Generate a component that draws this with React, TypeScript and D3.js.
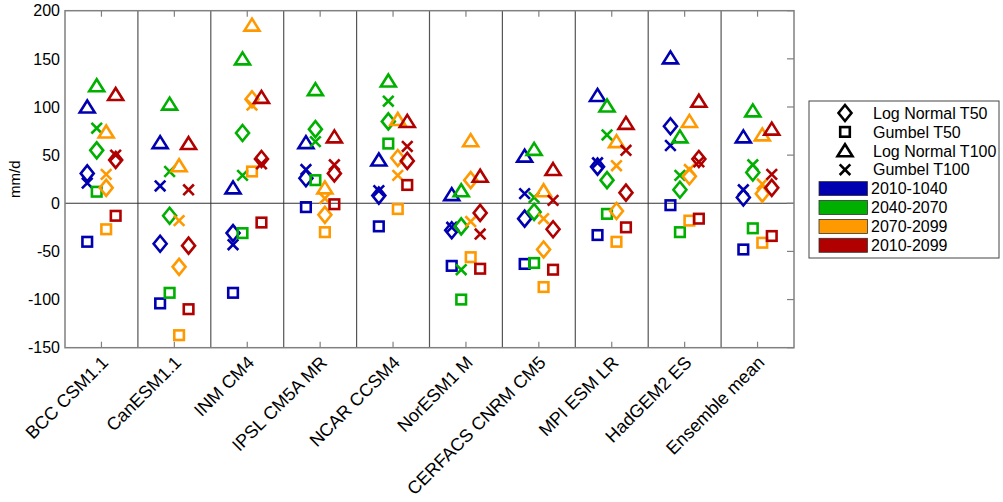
import React from "react";
import * as d3 from "d3";

// Climate models (x categories)
const models = [
  "BCC CSM1.1",
  "CanESM1.1",
  "INM CM4",
  "IPSL CM5A MR",
  "NCAR CCSM4",
  "NorESM1 M",
  "CERFACS CNRM CM5",
  "MPI ESM LR",
  "HadGEM2 ES",
  "Ensemble mean",
];

// Periods (colour series)
const periods = ["2010-1040", "2040-2070", "2070-2099", "2010-2099"];
const periodColors = ["#0000b0", "#00b000", "#ff9900", "#b00000"];

// Values in mm/d, one row per model, one column per period
const logNormalT50 = [
  [31, 55, 16, 45],
  [-42, -13, -66, -44],
  [-31, 73, 108, 46],
  [26, 77, -12, 31],
  [8, 85, 47, 44],
  [-28, -24, 24, -10],
  [-16, -9, -48, -27],
  [38, 24, -8, 11],
  [80, 14, 28, 46],
  [6, 32, 10, 16],
];
const gumbelT50 = [
  [-40, 12, -27, -13],
  [-104, -93, -137, -110],
  [-93, -31, 33, -20],
  [-4, 24, -30, -1],
  [-24, 62, -6, 19],
  [-65, -100, -56, -68],
  [-63, -62, -87, -69],
  [-33, -11, -40, -25],
  [-2, -30, -18, -16],
  [-48, -26, -41, -34],
];
const logNormalT100 = [
  [100, 122, 74, 113],
  [63, 103, 39, 62],
  [16, 150, 185, 110],
  [63, 118, 16, 69],
  [45, 127, 87, 85],
  [9, 13, 65, 28],
  [49, 56, 13, 35],
  [112, 101, 64, 83],
  [151, 69, 85, 106],
  [69, 96, 71, 77],
];
const gumbelT100 = [
  [21, 78, 30, 50],
  [18, 33, -18, 14],
  [-43, 29, 102, 41],
  [35, 64, 5, 40],
  [13, 106, 29, 59],
  [-25, -69, -19, -32],
  [10, 6, -16, 3],
  [42, 71, 39, 55],
  [60, 29, 35, 43],
  [14, 40, 20, 30],
];

const yTicks = [-150, -100, -50, 0, 50, 100, 150, 200];
const legendShapes = ["Log Normal T50", "Gumbel T50", "Log Normal T100", "Gumbel T100"];
const periodOffsets = [-0.195, -0.065, 0.065, 0.195];

const W = 1003;
const H = 502;
const left = 65;
const right = 794;
const top = 10.7;
const bottom = 347.7;
const font = "'Liberation Sans', Arial, Helvetica, sans-serif";

type Shape = "diamond" | "square" | "triangle" | "cross";

function Marker({ shape, x, y, color }: { shape: Shape; x: number; y: number; color: string }) {
  const sw = 2.6;
  if (shape === "diamond") {
    const p = `M${x},${y - 8}L${x + 6.5},${y}L${x},${y + 8}L${x - 6.5},${y}Z`;
    return <path d={p} fill="none" stroke={color} strokeWidth={sw} />;
  }
  if (shape === "square") {
    return <rect x={x - 4.8} y={y - 4.8} width={9.6} height={9.6} fill="none" stroke={color} strokeWidth={sw} />;
  }
  if (shape === "triangle") {
    const p = `M${x},${y - 6.5}L${x + 7.5},${y + 5.5}L${x - 7.5},${y + 5.5}Z`;
    return <path d={p} fill="none" stroke={color} strokeWidth={sw} />;
  }
  const s = 5.3;
  return (
    <path
      d={`M${x - s},${y - s}L${x + s},${y + s}M${x - s},${y + s}L${x + s},${y - s}`}
      fill="none"
      stroke={color}
      strokeWidth={sw}
    />
  );
}

export default function App() {
  const x = d3.scaleBand<string>().domain(models).range([left, right]).padding(0);
  const y = d3.scaleLinear().domain([-150, 200]).range([bottom, top]);
  const bw = x.bandwidth();

  const series: { shape: Shape; data: number[][] }[] = [
    { shape: "diamond", data: logNormalT50 },
    { shape: "square", data: gumbelT50 },
    { shape: "triangle", data: logNormalT100 },
    { shape: "cross", data: gumbelT100 },
  ];

  const legendX = 809;
  const legendY = 101;
  const rowY = (i: number) => legendY + 12 + i * 18.9;

  return (
    <svg
      width={W}
      height={H}
      style={{ position: "absolute", left: 0, top: 0, background: "#fff" }}
      fontFamily={font}
    >
      <rect x={0} y={0} width={W} height={H} fill="#fff" />

      {/* category separators */}
      {models.slice(1).map((m) => (
        <line key={m} x1={x(m)!} x2={x(m)!} y1={top} y2={bottom} stroke="#555" strokeWidth={1.2} />
      ))}
      {/* zero line */}
      <line x1={left} x2={right} y1={y(0)} y2={y(0)} stroke="#333" strokeWidth={1.2} />

      {/* markers */}
      {models.map((m, mi) =>
        periods.map((p, pi) =>
          series.map((s) => (
            <Marker
              key={`${m}-${p}-${s.shape}`}
              shape={s.shape}
              x={x(m)! + bw / 2 + periodOffsets[pi] * bw}
              y={y(s.data[mi][pi])}
              color={periodColors[pi]}
            />
          ))
        )
      )}

      {/* frame */}
      <rect x={left} y={top} width={right - left} height={bottom - top} fill="none" stroke="#808080" strokeWidth={1.5} />

      {/* x ticks (top and bottom) */}
      {models.map((m) => {
        const cx = x(m)! + bw / 2;
        return (
          <g key={m}>
            <line x1={cx} x2={cx} y1={top} y2={top + 6} stroke="#808080" strokeWidth={1.2} />
            <line x1={cx} x2={cx} y1={bottom} y2={bottom - 6} stroke="#808080" strokeWidth={1.2} />
          </g>
        );
      })}
      {/* y ticks on the right */}
      {yTicks.map((t) => (
        <line key={t} x1={right} x2={right - 7} y1={y(t)} y2={y(t)} stroke="#808080" strokeWidth={1.2} />
      ))}

      {/* y tick labels */}
      {yTicks.map((t) => (
        <text key={t} x={60} y={y(t)} dy="0.36em" textAnchor="end" fontSize={16} fill="#000">
          {t}
        </text>
      ))}
      <text
        transform={`translate(20,${(top + bottom) / 2}) rotate(-90)`}
        textAnchor="middle"
        fontSize={15}
        fill="#000"
      >
        mm/d
      </text>

      {/* x labels */}
      {models.map((m) => {
        const cx = x(m)! + bw / 2;
        return (
          <text
            key={m}
            transform={`translate(${cx + 8},${bottom + 16}) rotate(-45)`}
            textAnchor="end"
            fontSize={18}
            fill="#000"
          >
            {m}
          </text>
        );
      })}

      {/* legend */}
      <rect x={legendX} y={legendY} width={190} height={157} fill="#fff" stroke="#444" strokeWidth={1} />
      {legendShapes.map((label, i) => (
        <g key={label}>
          <Marker shape={series[i].shape} x={845} y={rowY(i)} color="#000" />
          <text x={873} y={rowY(i)} dy="0.36em" fontSize={16} fill="#000">
            {label}
          </text>
        </g>
      ))}
      {periods.map((p, i) => (
        <g key={p}>
          <rect x={819} y={rowY(i + 4) - 7} width={48.5} height={14} fill={periodColors[i]} stroke="#333" strokeWidth={0.8} />
          <text x={871} y={rowY(i + 4)} dy="0.36em" fontSize={16} fill="#000">
            {p}
          </text>
        </g>
      ))}
    </svg>
  );
}
